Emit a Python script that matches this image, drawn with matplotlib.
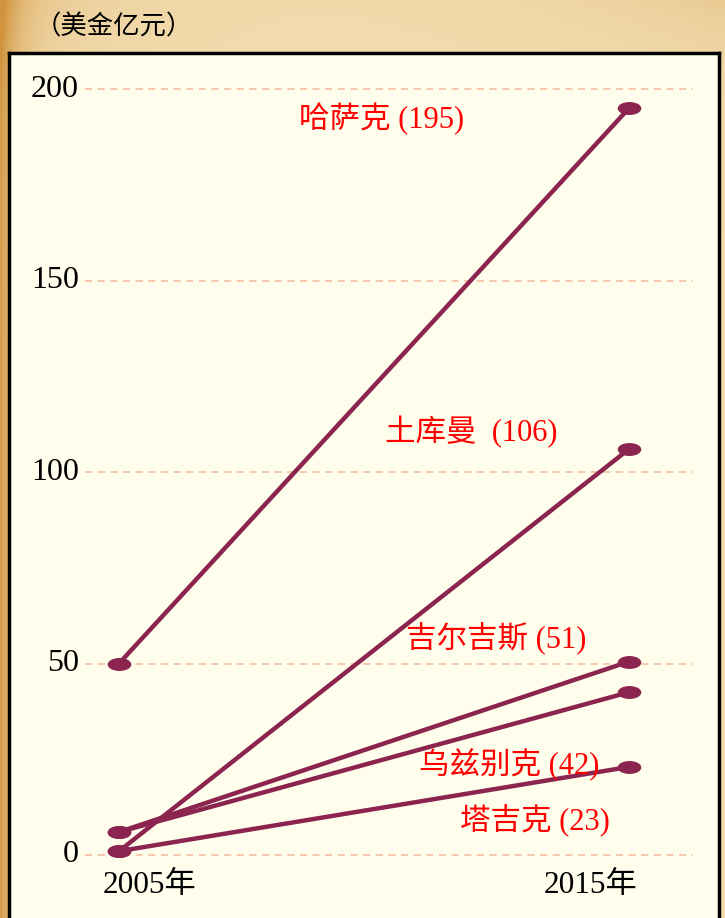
import numpy as np
import matplotlib
matplotlib.use("Agg")
import matplotlib.pyplot as plt
from matplotlib.path import Path
from matplotlib.transforms import Affine2D

# ---- data ----
years = [2005, 2015]
countries = ["哈萨克", "土库曼", "吉尔吉斯", "乌兹别克", "塔吉克"]
v2005 = [50, 1, 6, 6, 1]
v2015 = [195, 106, 50.5, 42.5, 23]
labels = ["哈萨克 (195)", "土库曼  (106)", "吉尔吉斯 (51)", "乌兹别克 (42)", "塔吉克 (23)"]
label_pos = [(2010.15, 192.3), (2011.9, 110.5), (2012.4, 56.5), (2012.65, 23.5), (2013.15, 8.8)]
yticks = [0, 50, 100, 150, 200]
xticklabels = ["2005年", "2015年"]
unit = "（美金亿元）"

W, H = 725, 918
fig = plt.figure(figsize=(W / 100, H / 100), dpi=100)

# parchment-like background (smooth gradient)
bg = fig.add_axes([0, 0, 1, 1])
xx = np.linspace(0, 1, 400)[None, :]
yy = np.linspace(0, 1, 400)[:, None]
base = np.array([0.95, 0.86, 0.68])
dark = np.array([0.82, 0.58, 0.24])
w = np.clip(np.exp(-xx / 0.025) * 0.85 + 0.35 * np.exp(-xx / 0.12) * np.exp(-yy / 0.08)
            + 0.25 * np.exp(-(1 - xx) / 0.2) * np.exp(-yy / 0.06), 0, 1)
img = base[None, None, :] * (1 - w[..., None]) + dark[None, None, :] * w[..., None]
bg.imshow(img, extent=[0, 1, 0, 1], aspect="auto", origin="upper")
bg.set_axis_off()

# panel axes
top_px, bot_px, left_px, right_px = 53, 930, 9, 719
ax = fig.add_axes([left_px / W, 1 - bot_px / H, (right_px - left_px) / W, (bot_px - top_px) / H])
ax.set_facecolor("#FFFEEC")
ppu = (855 - 89) / 200.0
ax.set_ylim(0 - (bot_px - 855) / ppu, 200 + (89 - top_px) / ppu)
ppx = (629 - 119) / 10.0
ax.set_xlim(2005 - (119 - left_px) / ppx, 2015 + (right_px - 629) / ppx)
for s in ax.spines.values():
    s.set_linewidth(2.5)
    s.set_color("black")
ax.set_xticks([])
ax.set_yticks([])

# gridlines
gx0 = 2005 + (85 - 119) / ppx
gx1 = 2015 + (693 - 629) / ppx
for t in yticks:
    ax.plot([gx0, gx1], [t, t], color="#F5C4A8", lw=1.3, ls=(0, (4, 3)), zorder=1)
    ax.text(2005 + (79 - 119) / ppx, t, str(t), ha="right", va="center",
            fontsize=23, family="Liberation Serif", color="black")

# ellipse marker
ell = Path.unit_circle().transformed(Affine2D().scale(1.0, 0.55))

col = "#8B2550"
for a, b in zip(v2005, v2015):
    ax.plot(years, [a, b], color=col, lw=3.2, marker=ell, markersize=17,
            markeredgewidth=0, zorder=3, solid_capstyle="round")

for (x, y), lab in zip(label_pos, labels):
    ax.text(x, y, lab, ha="center", va="center", fontsize=22, color="#FF0000",
            family=["Liberation Serif", "Noto Sans CJK SC"], zorder=4)

for yr, lab, dx in zip(years, xticklabels, [0.6, -0.75]):
    ax.text(yr + dx, -8, lab, ha="center", va="center", fontsize=22.5, color="black",
            family=["Liberation Serif", "Noto Sans CJK SC"])

fig.text(35 / W, 1 - 27 / H, unit, ha="left", va="center", fontsize=19, color="black",
         family=["Noto Sans CJK SC", "DejaVu Sans"])

fig.savefig("out.png", dpi=100)
